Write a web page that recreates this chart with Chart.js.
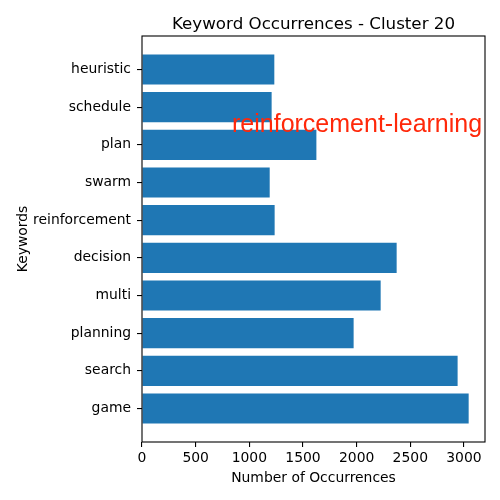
<!DOCTYPE html>
<html><head><meta charset="utf-8">
<script src="https://cdn.jsdelivr.net/npm/chart.js@4"></script>
<style>html,body{margin:0;padding:0;background:#fff}#wrap{width:500px;height:500px}</style>
</head><body><div id="wrap"><canvas id="c" width="500" height="500"></canvas></div>
<script>
const keywords = ['game','search','planning','multi','decision','reinforcement','swarm','plan','schedule','heuristic'];
const occurrences = [3044,2941,1972,2224,2373,1236,1190,1625,1208,1233];
const xTicks = [0,500,1000,1500,2000,2500,3000];
const titleText = 'Keyword Occurrences - Cluster 20';
const xLabel = 'Number of Occurrences';
const yLabel = 'Keywords';
const overlayText = 'reinforcement-learning';

const FONT = "'DejaVu Sans'";
const xMax = Math.max(...occurrences) * 1.05;
const yMin = -0.4 - 0.05 * (keywords.length - 1 + 0.8);
const yMax = keywords.length - 1 + 0.4 + 0.05 * (keywords.length - 1 + 0.8);

const decor = {
  id: 'decor',
  afterDraw(chart) {
    const ctx = chart.ctx, ca = chart.chartArea;
    ctx.save();
    ctx.strokeStyle = '#000';
    ctx.lineWidth = 1.1;
    ctx.strokeRect(ca.left, ca.top, ca.right - ca.left, ca.bottom - ca.top);
    ctx.fillStyle = '#000';
    ctx.textAlign = 'center';
    ctx.textBaseline = 'alphabetic';
    ctx.font = '16.7px ' + FONT;
    ctx.fillText(titleText, (ca.left + ca.right) / 2, 29);
    ctx.font = '13.9px ' + FONT;
    ctx.fillText(xLabel, (ca.left + ca.right) / 2, 482);
    ctx.save();
    ctx.translate(27, (ca.top + ca.bottom) / 2);
    ctx.rotate(-Math.PI / 2);
    ctx.fillText(yLabel, 0, 0);
    ctx.restore();
    ctx.fillStyle = 'rgb(255,40,10)';
    ctx.textAlign = 'left';
    ctx.font = "25px 'Liberation Sans'";
    ctx.fillText(overlayText, 232, 132);
    ctx.restore();
  }
};

new Chart(document.getElementById('c'), {
  type: 'bar',
  data: {
    datasets: [{
      data: keywords.map((k, i) => ({ x: occurrences[i], y: i })),
      backgroundColor: '#1f77b4',
      borderWidth: 0,
      barPercentage: 0.8,
      categoryPercentage: 1.0
    }]
  },
  options: {
    indexAxis: 'y',
    responsive: false,
    animation: false,
    devicePixelRatio: 1,
    layout: { padding: { top: 36, right: 15, left: 0, bottom: 0 } },
    plugins: { legend: { display: false }, title: { display: false }, tooltip: { enabled: false } },
    scales: {
      y: {
        type: 'linear',
        offset: false,
        min: yMin, max: yMax,
        afterBuildTicks: s => { s.ticks = keywords.map((k, i) => ({ value: i })); },
        afterFit: s => { s.width = 142; },
        ticks: { callback: v => keywords[v], color: '#000', font: { family: 'DejaVu Sans', size: 13.9 }, padding: 6, autoSkip: false },
        grid: { offset: false, drawOnChartArea: false, drawTicks: true, tickLength: 5, color: '#000', lineWidth: 1.1 },
        border: { display: false }
      },
      x: {
        type: 'linear',
        offset: false,
        min: 0, max: xMax,
        afterBuildTicks: s => { s.ticks = xTicks.map(v => ({ value: v })); },
        afterFit: s => { s.height = 58; },
        ticks: { callback: v => String(v), color: '#000', font: { family: 'DejaVu Sans', size: 13.9 }, padding: 3, maxRotation: 0, autoSkip: false },
        grid: { offset: false, drawOnChartArea: false, drawTicks: true, tickLength: 5, color: '#000', lineWidth: 1.1 },
        border: { display: false }
      }
    }
  },
  plugins: [decor]
});
</script>
</body></html>
